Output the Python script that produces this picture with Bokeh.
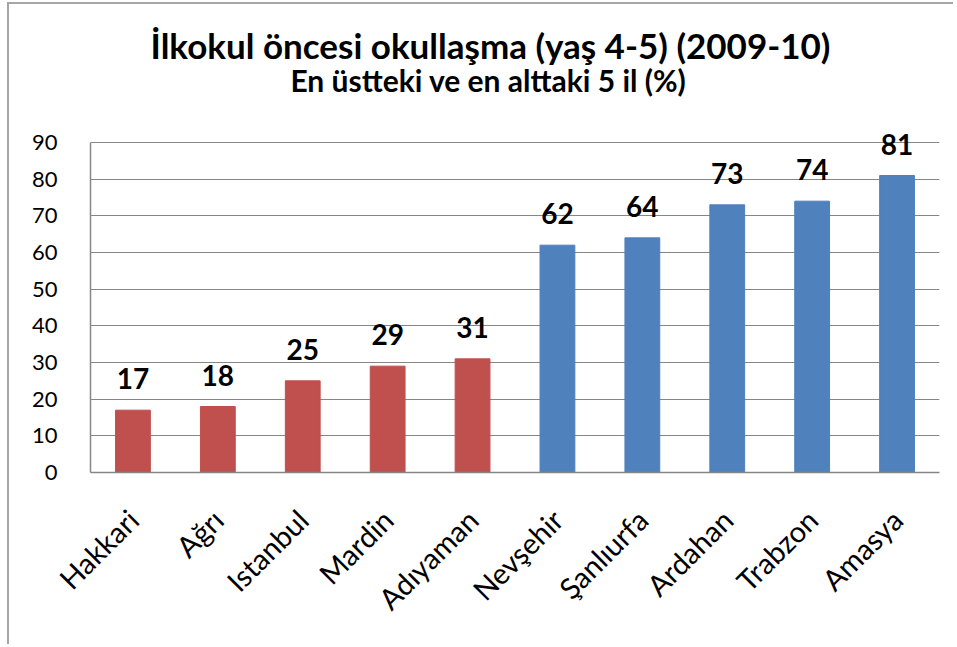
import math
from bokeh.plotting import figure
from bokeh.models import ColumnDataSource, LabelSet, Label, Range1d, FixedTicker
from bokeh.core.properties import value
from bokeh.embed import file_html
from bokeh.resources import INLINE

provinces = ["Hakkari", "Ağrı", "Istanbul", "Mardin", "Adıyaman",
             "Nevşehir", "Şanlıurfa", "Ardahan", "Trabzon", "Amasya"]
values = [17, 18, 25, 29, 31, 62, 64, 73, 74, 81]
groups = ["alttaki", "alttaki", "alttaki", "alttaki", "alttaki",
          "üstteki", "üstteki", "üstteki", "üstteki", "üstteki"]
y_ticks = [0, 10, 20, 30, 40, 50, 60, 70, 80, 90]
title_text = "İlkokul öncesi okullaşma (yaş 4-5) (2009-10)"
subtitle_text = "En üstteki ve en alttaki 5 il (%)"

group_colors = {"alttaki": "#C0504D", "üstteki": "#4F81BD"}

src = ColumnDataSource(dict(
    province=provinces,
    value=values,
    label=[str(v) for v in values],
    color=[group_colors[g] for g in groups],
))

FONT = "Lato"

# frame extends up to the top of the canvas so titles/labels are not clipped;
# the axis and grid are limited to 0..90
p = figure(x_range=provinces, y_range=Range1d(0, 126),
           width=946, height=642, output_backend="svg", toolbar_location=None,
           min_border_left=81, min_border_right=16, min_border_top=6,
           min_border_bottom=174)
p.styles = {"border-top": "2px solid #a6a6a6", "border-left": "2px solid #a6a6a6",
            "margin-left": "7px", "margin-top": "2px"}

p.vbar(x="province", top="value", width=0.41, color="color", source=src)

p.outline_line_color = None
p.xgrid.visible = False
p.ygrid.grid_line_color = "#868686"
p.ygrid.grid_line_width = 1
p.ygrid.bounds = (y_ticks[0], y_ticks[-1])
p.yaxis.ticker = FixedTicker(ticks=y_ticks)
p.yaxis.bounds = (y_ticks[0], y_ticks[-1])

for ax in (p.xaxis[0], p.yaxis[0]):
    ax.axis_line_color = "#868686"
    ax.axis_line_width = 1.5
    ax.major_tick_line_color = None
    ax.minor_tick_line_color = None
    ax.major_label_text_font = FONT
    ax.major_label_text_color = "#000000"

p.yaxis.major_label_text_font_size = "22px"
p.yaxis.major_label_standoff = 27
p.xaxis.major_label_text_font_size = "29px"
p.xaxis.major_label_orientation = math.pi / 4
p.xaxis.major_label_standoff = 36

labels = LabelSet(x="province", y="value", text="label", source=src,
                  y_offset=21, text_align="center", text_baseline="alphabetic",
                  text_font=value(FONT), text_font_size=value("28px"),
                  text_font_style="bold", text_color="#000000")
p.add_layout(labels)

p.add_layout(Label(x=400, y=428, x_units="screen", y_units="screen", text=title_text,
                   text_align="center", text_baseline="alphabetic", text_font=FONT,
                   text_font_size="35px", text_font_style="bold", text_color="#000000"))
p.add_layout(Label(x=398, y=393, x_units="screen", y_units="screen", text=subtitle_text,
                   text_align="center", text_baseline="alphabetic", text_font=FONT,
                   text_font_size="30px", text_font_style="bold", text_color="#000000"))

open("out.html", "w").write(file_html(p, INLINE))
